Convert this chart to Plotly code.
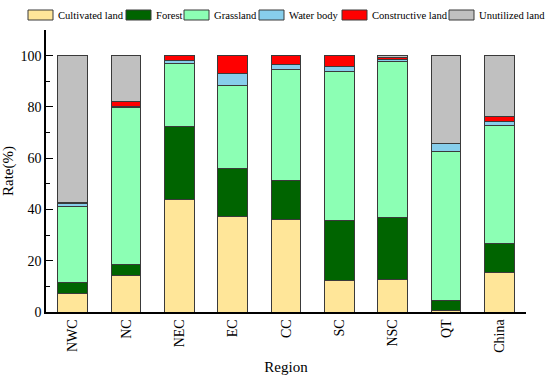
import plotly.graph_objects as go

regions = ["NWC", "NC", "NEC", "EC", "CC", "SC", "NSC", "QT", "China"]
cultivated = [7.4, 14.3, 44.0, 37.4, 36.2, 12.1, 12.8, 0.5, 15.3]
forest = [4.0, 4.3, 28.3, 18.5, 15.0, 23.5, 24.2, 4.0, 11.5]
grassland = [29.7, 61.2, 24.7, 32.6, 43.2, 58.2, 60.9, 58.1, 46.1]
water = [1.1, 0.5, 1.1, 4.5, 2.2, 2.1, 0.6, 3.2, 1.6]
constructive = [0.5, 1.7, 1.9, 7.0, 3.4, 4.1, 0.9, 0.1, 1.6]
unutilized = [57.3, 18.0, 0.0, 0.0, 0.0, 0.0, 0.6, 34.1, 23.9]

series_names = ["Cultivated land", "Forest", "Grassland", "Water body",
                "Constructive land", "Unutilized land"]
series_values = [cultivated, forest, grassland, water, constructive, unutilized]
series_colors = ["#FFE699", "#006400", "#8CFFB4", "#87CEEB", "#FF0000", "#C0C0C0"]

FONT = "Liberation Serif"
OUTLINE = "#3a3a3a"

# plot area in pixels
W, H = 550, 375
L, R, T, B = 46, 24, 30, 63
pw, ph = W - L - R, H - T - B

fig = go.Figure()
for name, vals, color in zip(series_names, series_values, series_colors):
    fig.add_trace(go.Bar(
        x=regions, y=vals, name=name,
        marker=dict(color=color, line=dict(color=OUTLINE, width=1)),
        width=0.56,
    ))

# custom legend (wide swatches like the original)
swatch_left_px = [28, 126, 184, 259, 342, 449]
sw_w, sw_h, legend_y_px = 25, 10, 15
shapes, annotations = [], []
for name, color, sx in zip(series_names, series_colors, swatch_left_px):
    x0 = (sx - L) / pw
    x1 = (sx + sw_w - L) / pw
    y0 = (H - B - (legend_y_px + sw_h / 2)) / ph
    y1 = (H - B - (legend_y_px - sw_h / 2)) / ph
    shapes.append(dict(type="rect", xref="paper", yref="paper", x0=x0, x1=x1,
                       y0=y0, y1=y1, fillcolor=color,
                       line=dict(color=OUTLINE, width=1)))
    annotations.append(dict(xref="paper", yref="paper",
                            x=(sx + sw_w + 3 - L) / pw,
                            y=(H - B - legend_y_px) / ph,
                            xanchor="left", yanchor="middle", showarrow=False,
                            text=name, font=dict(family=FONT, size=10.6, color="black")))

fig.update_layout(
    barmode="stack",
    width=W, height=H,
    margin=dict(l=L, r=R, t=T, b=B, autoexpand=False),
    paper_bgcolor="white", plot_bgcolor="white",
    font=dict(family=FONT, size=14, color="black"),
    showlegend=False,
    shapes=shapes, annotations=annotations,
    xaxis=dict(
        title=dict(text="Region", font=dict(family=FONT, size=15), standoff=12),
        tickangle=-90, showline=True, linecolor="black", linewidth=1.5,
        ticks="", range=[-0.5, 8.5], tickfont=dict(family=FONT, size=14),
    ),
    yaxis=dict(
        title=dict(text="Rate(%)", font=dict(family=FONT, size=15), standoff=6),
        range=[0, 110], showline=True, linecolor="black",
        linewidth=1.5, ticks="inside", ticklen=7, tickcolor="black",
        showgrid=False, zeroline=False, tickfont=dict(family=FONT, size=14),
        tickvals=[0, 20, 40, 60, 80, 100],
        minor=dict(ticks="inside", ticklen=4, tickvals=[10, 30, 50, 70, 90, 110],
                   tickcolor="black", showgrid=False),
    ),
)

fig.write_html("out.html", config={"displayModeBar": False},
               post_script="document.body.style.margin='0';")
